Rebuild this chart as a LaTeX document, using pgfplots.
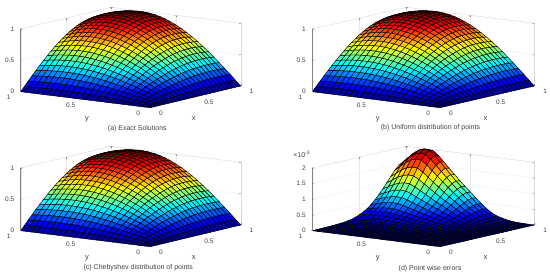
\documentclass[border=0pt]{standalone}
\usepackage{fontspec}
\setmainfont{Liberation Sans}
\usepackage{pgfplots}
\usepackage{pgfplotstable}
\pgfplotsset{compat=1.18}
\definecolor{tk}{gray}{0.25}
\pgfplotstableread[row sep=\\]{x y z\\
0 0 0\\.042 0 0\\.083 0 0\\.125 0 0\\.167 0 0\\.208 0 0\\.25 0 0\\.292 0 0\\.333 0 0\\.375 0 0\\.417 0 0\\.458 0 0\\.5 0 0\\.542 0 0\\.583 0 0\\.625 0 0\\.667 0 0\\.708 0 0\\.75 0 0\\.792 0 0\\.833 0 0\\.875 0 0\\.917 0 0\\.958 0 0\\1 0 0\\
0 .042 0\\.042 .042 .007\\.083 .042 .013\\.125 .042 .020\\.167 .042 .026\\.208 .042 .033\\.25 .042 .039\\.292 .042 .045\\.333 .042 .051\\.375 .042 .056\\.417 .042 .061\\.458 .042 .065\\.5 .042 .070\\.542 .042 .074\\.583 .042 .077\\.625 .042 .080\\.667 .042 .082\\.708 .042 .084\\.75 .042 .086\\.792 .042 .087\\.833 .042 .087\\.875 .042 .087\\.917 .042 .087\\.958 .042 .086\\1 .042 .084\\
0 .083 0\\.042 .083 .013\\.083 .083 .027\\.125 .083 .040\\.167 .083 .053\\.208 .083 .065\\.25 .083 .078\\.292 .083 .089\\.333 .083 .101\\.375 .083 .111\\.417 .083 .121\\.458 .083 .131\\.5 .083 .139\\.542 .083 .147\\.583 .083 .154\\.625 .083 .159\\.667 .083 .164\\.708 .083 .168\\.75 .083 .171\\.792 .083 .173\\.833 .083 .174\\.875 .083 .174\\.917 .083 .173\\.958 .083 .171\\1 .083 .168\\
0 .125 0\\.042 .125 .020\\.083 .125 .040\\.125 .125 .059\\.167 .125 .079\\.208 .125 .098\\.25 .125 .116\\.292 .125 .133\\.333 .125 .150\\.375 .125 .166\\.417 .125 .181\\.458 .125 .195\\.5 .125 .207\\.542 .125 .219\\.583 .125 .229\\.625 .125 .238\\.667 .125 .245\\.708 .125 .251\\.75 .125 .255\\.792 .125 .258\\.833 .125 .260\\.875 .125 .260\\.917 .125 .258\\.958 .125 .255\\1 .125 .250\\
0 .167 0\\.042 .167 .026\\.083 .167 .053\\.125 .167 .079\\.167 .167 .104\\.208 .167 .129\\.25 .167 .153\\.292 .167 .176\\.333 .167 .198\\.375 .167 .219\\.417 .167 .239\\.458 .167 .257\\.5 .167 .274\\.542 .167 .289\\.583 .167 .303\\.625 .167 .314\\.667 .167 .324\\.708 .167 .332\\.75 .167 .338\\.792 .167 .342\\.833 .167 .343\\.875 .167 .343\\.917 .167 .341\\.958 .167 .337\\1 .167 .330\\
0 .208 0\\.042 .208 .033\\.083 .208 .065\\.125 .208 .097\\.167 .208 .129\\.208 .208 .160\\.25 .208 .189\\.292 .208 .218\\.333 .208 .245\\.375 .208 .271\\.417 .208 .296\\.458 .208 .318\\.5 .208 .339\\.542 .208 .358\\.583 .208 .374\\.625 .208 .389\\.667 .208 .401\\.708 .208 .410\\.75 .208 .417\\.792 .208 .422\\.833 .208 .424\\.875 .208 .424\\.917 .208 .421\\.958 .208 .416\\1 .208 .408\\
0 .25 0\\.042 .25 .039\\.083 .25 .077\\.125 .25 .115\\.167 .25 .152\\.208 .25 .189\\.25 .25 .224\\.292 .25 .258\\.333 .25 .291\\.375 .25 .321\\.417 .25 .350\\.458 .25 .377\\.5 .25 .401\\.542 .25 .423\\.583 .25 .443\\.625 .25 .460\\.667 .25 .474\\.708 .25 .486\\.75 .25 .494\\.792 .25 .500\\.833 .25 .503\\.875 .25 .502\\.917 .25 .499\\.958 .25 .493\\1 .25 .484\\
0 .292 0\\.042 .292 .044\\.083 .292 .089\\.125 .292 .132\\.167 .292 .175\\.208 .292 .217\\.25 .292 .257\\.292 .292 .296\\.333 .292 .334\\.375 .292 .369\\.417 .292 .402\\.458 .292 .432\\.5 .292 .461\\.542 .292 .486\\.583 .292 .509\\.625 .292 .528\\.667 .292 .545\\.708 .292 .558\\.75 .292 .567\\.792 .292 .574\\.833 .292 .577\\.875 .292 .577\\.917 .292 .573\\.958 .292 .566\\1 .292 .555\\
0 .333 0\\.042 .333 .050\\.083 .333 .099\\.125 .333 .148\\.167 .333 .196\\.208 .333 .243\\.25 .333 .289\\.292 .333 .332\\.333 .333 .374\\.375 .333 .414\\.417 .333 .451\\.458 .333 .485\\.5 .333 .517\\.542 .333 .545\\.583 .333 .571\\.625 .333 .593\\.667 .333 .611\\.708 .333 .626\\.75 .333 .637\\.792 .333 .644\\.833 .333 .647\\.875 .333 .647\\.917 .333 .643\\.958 .333 .635\\1 .333 .623\\
0 .375 0\\.042 .375 .055\\.083 .375 .109\\.125 .375 .163\\.167 .375 .216\\.208 .375 .268\\.25 .375 .318\\.292 .375 .366\\.333 .375 .412\\.375 .375 .456\\.417 .375 .497\\.458 .375 .534\\.5 .375 .569\\.542 .375 .601\\.583 .375 .629\\.625 .375 .653\\.667 .375 .673\\.708 .375 .689\\.75 .375 .701\\.792 .375 .709\\.833 .375 .713\\.875 .375 .713\\.917 .375 .708\\.958 .375 .699\\1 .375 .686\\
0 .417 0\\.042 .417 .060\\.083 .417 .119\\.125 .417 .177\\.167 .417 .235\\.208 .417 .291\\.25 .417 .345\\.292 .417 .397\\.333 .417 .447\\.375 .417 .494\\.417 .417 .539\\.458 .417 .580\\.5 .417 .617\\.542 .417 .652\\.583 .417 .682\\.625 .417 .708\\.667 .417 .730\\.708 .417 .747\\.75 .417 .761\\.792 .417 .769\\.833 .417 .773\\.875 .417 .773\\.917 .417 .768\\.958 .417 .758\\1 .417 .744\\
0 .458 0\\.042 .458 .064\\.083 .458 .127\\.125 .458 .190\\.167 .458 .251\\.208 .458 .311\\.25 .458 .369\\.292 .458 .425\\.333 .458 .479\\.375 .458 .529\\.417 .458 .577\\.458 .458 .621\\.5 .458 .661\\.542 .458 .698\\.583 .458 .730\\.625 .458 .758\\.667 .458 .782\\.708 .458 .800\\.75 .458 .814\\.792 .458 .824\\.833 .458 .828\\.875 .458 .828\\.917 .458 .822\\.958 .458 .812\\1 .458 .797\\
0 .5 0\\.042 .5 .067\\.083 .5 .135\\.125 .5 .201\\.167 .5 .266\\.208 .5 .330\\.25 .5 .391\\.292 .5 .450\\.333 .5 .507\\.375 .5 .561\\.417 .5 .611\\.458 .5 .657\\.5 .5 .700\\.542 .5 .739\\.583 .5 .773\\.625 .5 .803\\.667 .5 .828\\.708 .5 .848\\.75 .5 .863\\.792 .5 .873\\.833 .5 .877\\.875 .5 .877\\.917 .5 .871\\.958 .5 .860\\1 .5 .844\\
0 .542 0\\.042 .542 .071\\.083 .542 .141\\.125 .542 .211\\.167 .542 .279\\.208 .542 .346\\.25 .542 .410\\.292 .542 .472\\.333 .542 .532\\.375 .542 .588\\.417 .542 .641\\.458 .542 .689\\.5 .542 .734\\.542 .542 .775\\.583 .542 .811\\.625 .542 .842\\.667 .542 .868\\.708 .542 .889\\.75 .542 .905\\.792 .542 .915\\.833 .542 .920\\.875 .542 .919\\.917 .542 .913\\.958 .542 .902\\1 .542 .885\\
0 .583 0\\.042 .583 .074\\.083 .583 .147\\.125 .583 .219\\.167 .583 .290\\.208 .583 .359\\.25 .583 .426\\.292 .583 .491\\.333 .583 .553\\.375 .583 .611\\.417 .583 .666\\.458 .583 .716\\.5 .583 .763\\.542 .583 .805\\.583 .583 .843\\.625 .583 .875\\.667 .583 .902\\.708 .583 .924\\.75 .583 .940\\.792 .583 .951\\.833 .583 .956\\.875 .583 .955\\.917 .583 .949\\.958 .583 .937\\1 .583 .920\\
0 .625 0\\.042 .625 .076\\.083 .625 .151\\.125 .625 .226\\.167 .625 .299\\.208 .625 .370\\.25 .625 .439\\.292 .625 .506\\.333 .625 .569\\.375 .625 .629\\.417 .625 .686\\.458 .625 .738\\.5 .625 .786\\.542 .625 .830\\.583 .625 .868\\.625 .625 .901\\.667 .625 .929\\.708 .625 .952\\.75 .625 .968\\.792 .625 .980\\.833 .625 .985\\.875 .625 .984\\.917 .625 .978\\.958 .625 .966\\1 .625 .948\\
0 .667 0\\.042 .667 .077\\.083 .667 .155\\.125 .667 .231\\.167 .667 .305\\.208 .667 .378\\.25 .667 .449\\.292 .667 .517\\.333 .667 .582\\.375 .667 .643\\.417 .667 .701\\.458 .667 .754\\.5 .667 .804\\.542 .667 .848\\.583 .667 .887\\.625 .667 .921\\.667 .667 .950\\.708 .667 .973\\.75 .667 .990\\.792 .667 1.001\\.833 .667 1.007\\.875 .667 1.006\\.917 .667 1.000\\.958 .667 .987\\1 .667 .969\\
0 .708 0\\.042 .708 .079\\.083 .708 .157\\.125 .708 .234\\.167 .708 .310\\.208 .708 .384\\.25 .708 .455\\.292 .708 .524\\.333 .708 .590\\.375 .708 .653\\.417 .708 .711\\.458 .708 .765\\.5 .708 .815\\.542 .708 .860\\.583 .708 .900\\.625 .708 .935\\.667 .708 .964\\.708 .708 .987\\.75 .708 1.004\\.792 .708 1.016\\.833 .708 1.021\\.875 .708 1.021\\.917 .708 1.014\\.958 .708 1.001\\1 .708 .983\\
0 .75 0\\.042 .75 .079\\.083 .75 .158\\.125 .75 .236\\.167 .75 .312\\.208 .75 .387\\.25 .75 .459\\.292 .75 .528\\.333 .75 .595\\.375 .75 .657\\.417 .75 .716\\.458 .75 .771\\.5 .75 .821\\.542 .75 .867\\.583 .75 .907\\.625 .75 .942\\.667 .75 .971\\.708 .75 .994\\.75 .75 1.012\\.792 .75 1.023\\.833 .75 1.029\\.875 .75 1.028\\.917 .75 1.021\\.958 .75 1.009\\1 .75 .990\\
0 .792 0\\.042 .792 .079\\.083 .792 .158\\.125 .792 .236\\.167 .792 .312\\.208 .792 .386\\.25 .792 .459\\.292 .792 .528\\.333 .792 .595\\.375 .792 .657\\.417 .792 .716\\.458 .792 .771\\.5 .792 .821\\.542 .792 .866\\.583 .792 .907\\.625 .792 .941\\.667 .792 .971\\.708 .792 .994\\.75 .792 1.011\\.792 .792 1.023\\.833 .792 1.028\\.875 .792 1.028\\.917 .792 1.021\\.958 .792 1.008\\1 .792 .990\\
0 .833 0\\.042 .833 .079\\.083 .833 .157\\.125 .833 .234\\.167 .833 .310\\.208 .833 .384\\.25 .833 .455\\.292 .833 .524\\.333 .833 .590\\.375 .833 .652\\.417 .833 .711\\.458 .833 .765\\.5 .833 .815\\.542 .833 .860\\.583 .833 .900\\.625 .833 .935\\.667 .833 .963\\.708 .833 .987\\.75 .833 1.004\\.792 .833 1.016\\.833 .833 1.021\\.875 .833 1.020\\.917 .833 1.014\\.958 .833 1.001\\1 .833 .982\\
0 .875 0\\.042 .875 .077\\.083 .875 .154\\.125 .875 .230\\.167 .875 .305\\.208 .875 .378\\.25 .875 .449\\.292 .875 .516\\.333 .875 .582\\.375 .875 .643\\.417 .875 .701\\.458 .875 .754\\.5 .875 .803\\.542 .875 .847\\.583 .875 .887\\.625 .875 .921\\.667 .875 .949\\.708 .875 .972\\.75 .875 .989\\.792 .875 1.001\\.833 .875 1.006\\.875 .875 1.005\\.917 .875 .999\\.958 .875 .986\\1 .875 .968\\
0 .917 0\\.042 .917 .076\\.083 .917 .151\\.125 .917 .225\\.167 .917 .298\\.208 .917 .370\\.25 .917 .439\\.292 .917 .505\\.333 .917 .569\\.375 .917 .629\\.417 .917 .685\\.458 .917 .737\\.5 .917 .785\\.542 .917 .829\\.583 .917 .867\\.625 .917 .900\\.667 .917 .928\\.708 .917 .951\\.75 .917 .967\\.792 .917 .978\\.833 .917 .984\\.875 .917 .983\\.917 .917 .977\\.958 .917 .965\\1 .917 .947\\
0 .958 0\\.042 .958 .073\\.083 .958 .146\\.125 .958 .219\\.167 .958 .290\\.208 .958 .359\\.25 .958 .426\\.292 .958 .490\\.333 .958 .552\\.375 .958 .610\\.417 .958 .665\\.458 .958 .715\\.5 .958 .762\\.542 .958 .804\\.583 .958 .841\\.625 .958 .874\\.667 .958 .901\\.708 .958 .922\\.75 .958 .939\\.792 .958 .949\\.833 .958 .954\\.875 .958 .954\\.917 .958 .948\\.958 .958 .936\\1 .958 .918\\
0 1 0\\.042 1 .071\\.083 1 .141\\.125 1 .210\\.167 1 .279\\.208 1 .345\\.25 1 .409\\.292 1 .471\\.333 1 .531\\.375 1 .587\\.417 1 .640\\.458 1 .688\\.5 1 .733\\.542 1 .774\\.583 1 .809\\.625 1 .841\\.667 1 .867\\.708 1 .887\\.75 1 .903\\.792 1 .913\\.833 1 .918\\.875 1 .918\\.917 1 .912\\.958 1 .900\\1 1 .884\\}\tabA
\pgfplotstableread[row sep=\\]{x y z\\
0 0 0\\.042 0 0\\.083 0 0\\.125 0 0\\.167 0 0\\.208 0 0\\.25 0 0\\.292 0 0\\.333 0 0\\.375 0 0\\.417 0 0\\.458 0 0\\.5 0 0\\.542 0 0\\.583 0 0\\.625 0 0\\.667 0 0\\.708 0 0\\.75 0 0\\.792 0 0\\.833 0 0\\.875 0 0\\.917 0 0\\.958 0 0\\1 0 0\\
0 .042 0\\.042 .042 0\\.083 .042 0\\.125 .042 0\\.167 .042 0\\.208 .042 0\\.25 .042 0\\.292 .042 0\\.333 .042 0\\.375 .042 0\\.417 .042 0\\.458 .042 0\\.5 .042 0\\.542 .042 0\\.583 .042 0\\.625 .042 .001\\.667 .042 .001\\.708 .042 .001\\.75 .042 .001\\.792 .042 .001\\.833 .042 .002\\.875 .042 .002\\.917 .042 .002\\.958 .042 .002\\1 .042 .002\\
0 .083 0\\.042 .083 0\\.083 .083 0\\.125 .083 0\\.167 .083 0\\.208 .083 0\\.25 .083 0\\.292 .083 0\\.333 .083 0\\.375 .083 0\\.417 .083 0\\.458 .083 0\\.5 .083 .001\\.542 .083 .001\\.583 .083 .001\\.625 .083 .002\\.667 .083 .002\\.708 .083 .003\\.75 .083 .003\\.792 .083 .004\\.833 .083 .005\\.875 .083 .005\\.917 .083 .006\\.958 .083 .006\\1 .083 .006\\
0 .125 0\\.042 .125 0\\.083 .125 0\\.125 .125 0\\.167 .125 0\\.208 .125 0\\.25 .125 0\\.292 .125 0\\.333 .125 0\\.375 .125 0\\.417 .125 .001\\.458 .125 .001\\.5 .125 .001\\.542 .125 .002\\.583 .125 .002\\.625 .125 .003\\.667 .125 .004\\.708 .125 .005\\.75 .125 .006\\.792 .125 .008\\.833 .125 .009\\.875 .125 .010\\.917 .125 .011\\.958 .125 .012\\1 .125 .012\\
0 .167 0\\.042 .167 0\\.083 .167 0\\.125 .167 0\\.167 .167 0\\.208 .167 0\\.25 .167 0\\.292 .167 0\\.333 .167 .001\\.375 .167 .001\\.417 .167 .001\\.458 .167 .002\\.5 .167 .003\\.542 .167 .004\\.583 .167 .005\\.625 .167 .006\\.667 .167 .008\\.708 .167 .011\\.75 .167 .013\\.792 .167 .016\\.833 .167 .018\\.875 .167 .021\\.917 .167 .023\\.958 .167 .024\\1 .167 .024\\
0 .208 0\\.042 .208 0\\.083 .208 0\\.125 .208 0\\.167 .208 0\\.208 .208 0\\.25 .208 .001\\.292 .208 .001\\.333 .208 .001\\.375 .208 .002\\.417 .208 .003\\.458 .208 .004\\.5 .208 .006\\.542 .208 .008\\.583 .208 .010\\.625 .208 .014\\.667 .208 .018\\.708 .208 .022\\.75 .208 .028\\.792 .208 .033\\.833 .208 .039\\.875 .208 .044\\.917 .208 .048\\.958 .208 .051\\1 .208 .050\\
0 .25 0\\.042 .25 0\\.083 .25 0\\.125 .25 0\\.167 .25 0\\.208 .25 .001\\.25 .25 .001\\.292 .25 .002\\.333 .25 .002\\.375 .25 .003\\.417 .25 .005\\.458 .25 .007\\.5 .25 .010\\.542 .25 .014\\.583 .25 .018\\.625 .25 .025\\.667 .25 .032\\.708 .25 .040\\.75 .25 .049\\.792 .25 .059\\.833 .25 .069\\.875 .25 .079\\.917 .25 .086\\.958 .25 .091\\1 .25 .089\\
0 .292 0\\.042 .292 0\\.083 .292 0\\.125 .292 0\\.167 .292 .001\\.208 .292 .001\\.25 .292 .002\\.292 .292 .003\\.333 .292 .004\\.375 .292 .005\\.417 .292 .007\\.458 .292 .011\\.5 .292 .016\\.542 .292 .021\\.583 .292 .028\\.625 .292 .038\\.667 .292 .050\\.708 .292 .062\\.75 .292 .077\\.792 .292 .092\\.833 .292 .108\\.875 .292 .124\\.917 .292 .135\\.958 .292 .142\\1 .292 .139\\
0 .333 0\\.042 .333 0\\.083 .333 0\\.125 .333 .001\\.167 .333 .001\\.208 .333 .002\\.25 .333 .003\\.292 .333 .004\\.333 .333 .006\\.375 .333 .008\\.417 .333 .011\\.458 .333 .017\\.5 .333 .025\\.542 .333 .033\\.583 .333 .045\\.625 .333 .060\\.667 .333 .078\\.708 .333 .098\\.75 .333 .120\\.792 .333 .145\\.833 .333 .169\\.875 .333 .194\\.917 .333 .212\\.958 .333 .223\\1 .333 .219\\
0 .375 0\\.042 .375 0\\.083 .375 0\\.125 .375 .001\\.167 .375 .002\\.208 .375 .003\\.25 .375 .004\\.292 .375 .006\\.333 .375 .009\\.375 .375 .012\\.417 .375 .017\\.458 .375 .026\\.5 .375 .038\\.542 .375 .052\\.583 .375 .069\\.625 .375 .093\\.667 .375 .121\\.708 .375 .152\\.75 .375 .186\\.792 .375 .224\\.833 .375 .262\\.875 .375 .300\\.917 .375 .328\\.958 .375 .345\\1 .375 .338\\
0 .417 0\\.042 .417 0\\.083 .417 0\\.125 .417 .001\\.167 .417 .002\\.208 .417 .004\\.25 .417 .006\\.292 .417 .009\\.333 .417 .012\\.375 .417 .017\\.417 .417 .024\\.458 .417 .037\\.5 .417 .054\\.542 .417 .073\\.583 .417 .097\\.625 .417 .131\\.667 .417 .170\\.708 .417 .214\\.75 .417 .263\\.792 .417 .317\\.833 .417 .370\\.875 .417 .424\\.917 .417 .463\\.958 .417 .487\\1 .417 .477\\
0 .458 0\\.042 .458 0\\.083 .458 .001\\.125 .458 .002\\.167 .458 .003\\.208 .458 .005\\.25 .458 .008\\.292 .458 .012\\.333 .458 .016\\.375 .458 .023\\.417 .458 .033\\.458 .458 .049\\.5 .458 .072\\.542 .458 .098\\.583 .458 .130\\.625 .458 .176\\.667 .458 .228\\.708 .458 .286\\.75 .458 .351\\.792 .458 .423\\.833 .458 .494\\.875 .458 .566\\.917 .458 .618\\.958 .458 .650\\1 .458 .637\\
0 .5 0\\.042 .5 0\\.083 .5 .001\\.125 .5 .002\\.167 .5 .004\\.208 .5 .006\\.25 .5 .010\\.292 .5 .015\\.333 .5 .020\\.375 .5 .028\\.417 .5 .041\\.458 .5 .061\\.5 .5 .089\\.542 .5 .122\\.583 .5 .162\\.625 .5 .219\\.667 .5 .284\\.708 .5 .357\\.75 .5 .438\\.792 .5 .528\\.833 .5 .617\\.875 .5 .706\\.917 .5 .771\\.958 .5 .812\\1 .5 .796\\
0 .542 0\\.042 .542 0\\.083 .542 .001\\.125 .542 .003\\.167 .542 .005\\.208 .542 .008\\.25 .542 .012\\.292 .542 .018\\.333 .542 .024\\.375 .542 .034\\.417 .542 .049\\.458 .542 .073\\.5 .542 .107\\.542 .542 .146\\.583 .542 .195\\.625 .542 .263\\.667 .542 .341\\.708 .542 .429\\.75 .542 .526\\.792 .542 .633\\.833 .542 .740\\.875 .542 .847\\.917 .542 .925\\.958 .542 .974\\1 .542 .955\\
0 .583 0\\.042 .583 .001\\.083 .583 .001\\.125 .583 .003\\.167 .583 .006\\.208 .583 .009\\.25 .583 .014\\.292 .583 .020\\.333 .583 .028\\.375 .583 .040\\.417 .583 .057\\.458 .583 .085\\.5 .583 .125\\.542 .583 .171\\.583 .583 .227\\.625 .583 .307\\.667 .583 .398\\.708 .583 .500\\.75 .583 .614\\.792 .583 .739\\.833 .583 .864\\.875 .583 .989\\.917 .583 1.080\\.958 .583 1.137\\1 .583 1.114\\
0 .625 0\\.042 .625 .001\\.083 .625 .001\\.125 .625 .004\\.167 .625 .007\\.208 .625 .011\\.25 .625 .016\\.292 .625 .024\\.333 .625 .033\\.375 .625 .046\\.417 .625 .066\\.458 .625 .099\\.5 .625 .145\\.542 .625 .198\\.583 .625 .264\\.625 .625 .356\\.667 .625 .462\\.708 .625 .581\\.75 .625 .713\\.792 .625 .858\\.833 .625 1.003\\.875 .625 1.148\\.917 .625 1.254\\.958 .625 1.320\\1 .625 1.294\\
0 .667 0\\.042 .667 .001\\.083 .667 .002\\.125 .667 .005\\.167 .667 .008\\.208 .667 .012\\.25 .667 .018\\.292 .667 .027\\.333 .667 .038\\.375 .667 .053\\.417 .667 .075\\.458 .667 .113\\.5 .667 .165\\.542 .667 .225\\.583 .667 .300\\.625 .667 .406\\.667 .667 .526\\.708 .667 .661\\.75 .667 .811\\.792 .667 .976\\.833 .667 1.142\\.875 .667 1.307\\.917 .667 1.427\\.958 .667 1.502\\1 .667 1.472\\
0 .708 0\\.042 .708 .001\\.083 .708 .002\\.125 .708 .005\\.167 .708 .008\\.208 .708 .013\\.25 .708 .020\\.292 .708 .030\\.333 .708 .042\\.375 .708 .059\\.417 .708 .084\\.458 .708 .126\\.5 .708 .185\\.542 .708 .253\\.583 .708 .337\\.625 .708 .455\\.667 .708 .590\\.708 .708 .741\\.75 .708 .910\\.792 .708 1.095\\.833 .708 1.281\\.875 .708 1.466\\.917 .708 1.601\\.958 .708 1.685\\1 .708 1.651\\
0 .75 0\\.042 .75 .001\\.083 .75 .002\\.125 .75 .006\\.167 .75 .009\\.208 .75 .015\\.25 .75 .022\\.292 .75 .034\\.333 .75 .047\\.375 .75 .065\\.417 .75 .093\\.458 .75 .140\\.5 .75 .205\\.542 .75 .280\\.583 .75 .374\\.625 .75 .504\\.667 .75 .654\\.708 .75 .822\\.75 .75 1.009\\.792 .75 1.214\\.833 .75 1.420\\.875 .75 1.625\\.917 .75 1.775\\.958 .75 1.868\\1 .75 1.831\\
0 .792 0\\.042 .792 .001\\.083 .792 .002\\.125 .792 .006\\.167 .792 .010\\.208 .792 .016\\.25 .792 .024\\.292 .792 .036\\.333 .792 .050\\.375 .792 .070\\.417 .792 .101\\.458 .792 .151\\.5 .792 .221\\.542 .792 .302\\.583 .792 .402\\.625 .792 .543\\.667 .792 .704\\.708 .792 .884\\.75 .792 1.085\\.792 .792 1.307\\.833 .792 1.528\\.875 .792 1.749\\.917 .792 1.910\\.958 .792 2.010\\1 .792 1.970\\
0 .833 0\\.042 .833 .001\\.083 .833 .002\\.125 .833 .006\\.167 .833 .010\\.208 .833 .016\\.25 .833 .024\\.292 .833 .037\\.333 .833 .051\\.375 .833 .071\\.417 .833 .102\\.458 .833 .152\\.5 .833 .223\\.542 .833 .305\\.583 .833 .406\\.625 .833 .548\\.667 .833 .711\\.708 .833 .893\\.75 .833 1.096\\.792 .833 1.320\\.833 .833 1.543\\.875 .833 1.766\\.917 .833 1.929\\.958 .833 2.030\\1 .833 1.989\\
0 .875 0\\.042 .875 .001\\.083 .875 .002\\.125 .875 .006\\.167 .875 .010\\.208 .875 .016\\.25 .875 .024\\.292 .875 .035\\.333 .875 .049\\.375 .875 .069\\.417 .875 .098\\.458 .875 .148\\.5 .875 .217\\.542 .875 .295\\.583 .875 .394\\.625 .875 .532\\.667 .875 .689\\.708 .875 .866\\.75 .875 1.063\\.792 .875 1.280\\.833 .875 1.496\\.875 .875 1.713\\.917 .875 1.871\\.958 .875 1.969\\1 .875 1.930\\
0 .917 0\\.042 .917 .001\\.083 .917 .002\\.125 .917 .006\\.167 .917 .009\\.208 .917 .015\\.25 .917 .022\\.292 .917 .033\\.333 .917 .046\\.375 .917 .065\\.417 .917 .092\\.458 .917 .139\\.5 .917 .203\\.542 .917 .277\\.583 .917 .369\\.625 .917 .499\\.667 .917 .646\\.708 .917 .813\\.75 .917 .997\\.792 .917 1.201\\.833 .917 1.404\\.875 .917 1.607\\.917 .917 1.755\\.958 .917 1.847\\1 .917 1.810\\
0 .958 0\\.042 .958 .001\\.083 .958 .002\\.125 .958 .005\\.167 .958 .008\\.208 .958 .013\\.25 .958 .020\\.292 .958 .030\\.333 .958 .042\\.375 .958 .059\\.417 .958 .084\\.458 .958 .126\\.5 .958 .185\\.542 .958 .253\\.583 .958 .337\\.625 .958 .455\\.667 .958 .590\\.708 .958 .741\\.75 .958 .910\\.792 .958 1.095\\.833 .958 1.281\\.875 .958 1.466\\.917 .958 1.601\\.958 .958 1.685\\1 .958 1.651\\
0 1 0\\.042 1 .001\\.083 1 .002\\.125 1 .005\\.167 1 .008\\.208 1 .012\\.25 1 .018\\.292 1 .027\\.333 1 .038\\.375 1 .053\\.417 1 .076\\.458 1 .114\\.5 1 .168\\.542 1 .228\\.583 1 .305\\.625 1 .411\\.667 1 .533\\.708 1 .670\\.75 1 .822\\.792 1 .990\\.833 1 1.157\\.875 1 1.325\\.917 1 1.447\\.958 1 1.523\\1 1 1.493\\}\tabD
\pgfplotsset{panel/.style={
  anchor=origin, clip=false, xmin=0,xmax=1,ymin=0,ymax=1,zmin=0,
  xtick={0,0.5,1},ytick={0,0.5,1},xticklabels={0,0.5,1},yticklabels={0,0.5,1},
  grid=major, grid style={gray!18,line width=.3pt},
  axis line style={gray!30,line width=.3pt},
  tick style={gray,line width=.3pt}, major tick length=1.5pt,
  tick label style={font=\fontsize{6.5}{7}\selectfont,text=tk},
  label style={font=\fontsize{7.5}{8}\selectfont,text=tk},
  xticklabel style={anchor=west,xshift=5.5pt,yshift=-5.2pt},
  yticklabel style={anchor=east,xshift=-6.6pt,yshift=-5.8pt},
  zticklabel style={anchor=east,xshift=-3pt},
  colormap={mj}{rgb255=(0,0,128) rgb255=(0,0,255) rgb255=(0,128,255) rgb255=(0,255,255) rgb255=(128,255,128) rgb255=(255,255,0) rgb255=(255,128,0) rgb255=(255,0,0) rgb255=(128,0,0)},
  z buffer=sort,
  xlabel=x, ylabel=y,
  xlabel style={at={(rel axis cs:0.5,0,0)},anchor=center,xshift=-1.6pt,yshift=-22pt},
  ylabel style={at={(rel axis cs:0,0.5,0)},anchor=center,xshift=1.6pt,yshift=-19.3pt},
}, srf/.style={surf,shader=faceted,faceted color=black,line width=.45pt,mesh/rows=25,mesh/cols=25,point meta=z}}
\begin{document}
\begin{tikzpicture}[x=1pt,y=1pt]
\useasboundingbox (0,0) rectangle (550,278);
\begin{axis}[panel,at={(150pt,170.3pt)},x={(90.7pt,21.7pt)},y={(-129.3pt,16pt)},z={(0pt,62.7pt)},zmax=1,ztick={0,0.5,1},zticklabels={0,0.5,1},point meta min=0,point meta max=1.03]
\addplot3[srf] table[x=x,y=y,z=z]{\tabA};
\draw[gray,line width=.4pt] (axis cs:0,1,0) -- (axis cs:0,1,1);
\end{axis}
\begin{axis}[panel,at={(440pt,170.3pt)},x={(94.3pt,21.7pt)},y={(-127.7pt,16pt)},z={(0pt,62.7pt)},zmax=1,ztick={0,0.5,1},zticklabels={0,0.5,1},point meta min=0,point meta max=1.03]
\addplot3[srf] table[x=x,y=y,z=z]{\tabA};
\draw[gray,line width=.4pt] (axis cs:0,1,0) -- (axis cs:0,1,1);
\end{axis}
\begin{axis}[panel,at={(150pt,31.3pt)},x={(90.7pt,21.7pt)},y={(-129.3pt,16pt)},z={(0pt,62.7pt)},zmax=1,ztick={0,0.5,1},zticklabels={0,0.5,1},point meta min=0,point meta max=1.03]
\addplot3[srf] table[x=x,y=y,z=z]{\tabA};
\draw[gray,line width=.4pt] (axis cs:0,1,0) -- (axis cs:0,1,1);
\end{axis}
\begin{axis}[panel,at={(440pt,31.3pt)},x={(94.3pt,21.7pt)},y={(-127.7pt,16pt)},z={(0pt,31.35pt)},zmax=2,ztick={0,0.5,1,1.5,2},zticklabels={0,0.5,1,1.5,2},point meta min=0,point meta max=2.03]
\addplot3[srf] table[x=x,y=y,z=z]{\tabD};
\draw[gray,line width=.4pt] (axis cs:0,1,0) -- (axis cs:0,1,2);
\end{axis}
\begin{scope}[every node/.style={font=\fontsize{7}{8}\selectfont,text=tk}]
\node at (137.3,149.7) {(a) Exact Solutions};
\node at (430.5,150.3) {(b) Uniform distribution of points};
\node at (138.3,10) {(c) Chebyshev distribution of points};
\node at (430,9) {(d) Point wise errors};
\node at (301.7,124) {×10\textsuperscript{-3}};
\end{scope}
\end{tikzpicture}
\end{document}
